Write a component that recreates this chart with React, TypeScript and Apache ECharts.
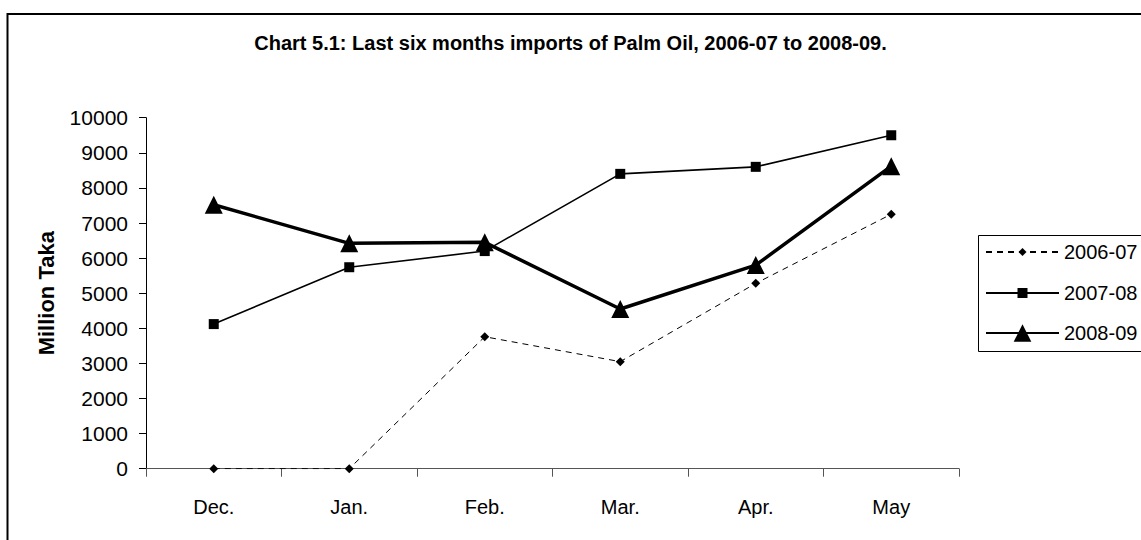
import React, { useEffect, useRef } from "react";
import * as echarts from "echarts";

const categories = ["Dec.", "Jan.", "Feb.", "Mar.", "Apr.", "May"];
const seriesNames = ["2006-07", "2007-08", "2008-09"];
const values0607 = [0, 0, 3760, 3050, 5280, 7250];
const values0708 = [4120, 5740, 6200, 8400, 8600, 9500];
const values0809 = [7520, 6420, 6450, 4550, 5800, 8620];
const yMin = 0;
const yMax = 10000;
const yInterval = 1000;
const titleText = "Chart 5.1: Last six months imports of Palm Oil, 2006-07 to 2008-09.";
const yAxisName = "Million Taka";

const FONT = "'Liberation Sans', Arial, sans-serif";

export default function App() {
  const ref = useRef<HTMLDivElement>(null);

  useEffect(() => {
    if (!ref.current) return;
    const chart = echarts.init(ref.current, undefined, { renderer: "svg" });

    const textStyle = { color: "#000", fontSize: 20, fontFamily: FONT };

    const option: any = {
      animation: false,
      backgroundColor: "#fff",
      title: {
        text: titleText,
        left: "center",
        top: 33,
        padding: 0,
        textStyle: { color: "#000", fontSize: 20, fontWeight: "bold", fontFamily: FONT },
      },
      grid: { left: 146, right: 182, top: 117.7, bottom: 71.3 },
      xAxis: {
        type: "category",
        data: categories,
        boundaryGap: true,
        axisLine: { show: true, lineStyle: { color: "#555", width: 1.2 } },
        axisTick: { show: true, length: 8, interval: 0, lineStyle: { color: "#555" } },
        axisLabel: { ...textStyle, margin: 28, interval: 0 },
        splitLine: { show: false },
      },
      yAxis: {
        type: "value",
        min: yMin,
        max: yMax,
        interval: yInterval,
        name: yAxisName,
        nameLocation: "middle",
        nameGap: 89,
        nameTextStyle: { color: "#000", fontSize: 22, fontWeight: "bold", fontFamily: FONT },
        axisLine: { show: true, lineStyle: { color: "#000", width: 1 } },
        axisTick: { show: true, length: 7, lineStyle: { color: "#000" } },
        axisLabel: {
          color: "#000",
          fontSize: 21,
          fontFamily: FONT,
          margin: 18,
          formatter: (v: number) => String(v),
        },
        splitLine: { show: false },
      },
      legend: [
        {
          data: [seriesNames[0]],
          left: 985,
          top: 242,
          padding: 0,
          itemWidth: 73,
          itemHeight: 10,
          selectedMode: false,
          textStyle,
        },
        {
          data: [seriesNames[1]],
          left: 985,
          top: 283,
          padding: 0,
          itemWidth: 73,
          itemHeight: 12.5,
          selectedMode: false,
          textStyle,
        },
        {
          data: [seriesNames[2]],
          left: 985,
          top: 323,
          padding: 0,
          itemWidth: 73,
          itemHeight: 22,
          selectedMode: false,
          textStyle,
        },
      ],
      series: [
        {
          name: seriesNames[0],
          type: "line",
          data: values0607,
          symbol: "diamond",
          symbolSize: 9,
          showAllSymbol: true,
          itemStyle: { color: "#000" },
          lineStyle: { color: "#000", width: 1, type: [6, 5] },
        },
        {
          name: seriesNames[1],
          type: "line",
          data: values0708,
          symbol: "rect",
          symbolSize: 10,
          showAllSymbol: true,
          itemStyle: { color: "#000" },
          lineStyle: { color: "#000", width: 1.6 },
        },
        {
          name: seriesNames[2],
          type: "line",
          data: values0809,
          symbol: "triangle",
          symbolSize: 18,
          showAllSymbol: true,
          itemStyle: { color: "#000" },
          lineStyle: { color: "#000", width: 3.5 },
        },
      ],
      graphic: [
        {
          type: "rect",
          silent: true,
          shape: { x: 7.5, y: 14, width: 1400, height: 800 },
          style: { fill: "none", stroke: "#000", lineWidth: 2 },
        },
        {
          type: "rect",
          silent: true,
          shape: { x: 978.5, y: 235.5, width: 400, height: 116 },
          style: { fill: "none", stroke: "#000", lineWidth: 1 },
        },
      ],
    };

    chart.setOption(option);
    return () => chart.dispose();
  }, []);

  return (
    <div
      ref={ref}
      style={{ position: "absolute", left: 0, top: 0, width: 1141, height: 540 }}
    />
  );
}
